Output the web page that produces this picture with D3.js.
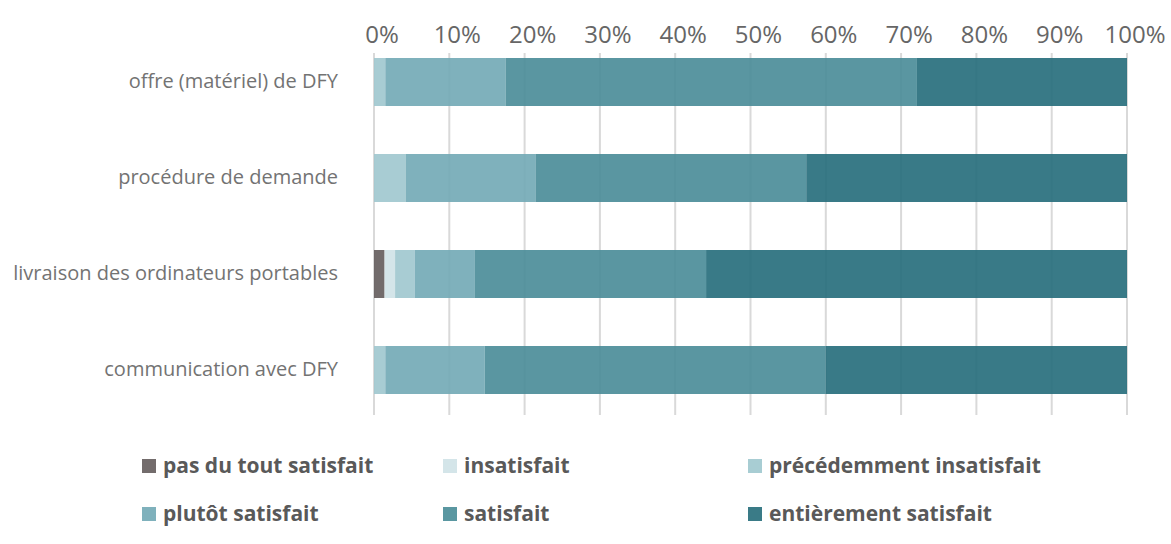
<!DOCTYPE html>
<html>
<head>
<meta charset="utf-8">
<script src="https://cdn.jsdelivr.net/npm/d3@7"></script>
<style>
  body { margin: 0; background: #fff; }
  text { font-family: "Open Sans", sans-serif; }
</style>
</head>
<body>
<div id="chart"></div>
<script>
// categories (top to bottom)
const categories = [
    "offre (matériel) de DFY",
    "procédure de demande",
    "livraison des ordinateurs portables",
    "communication avec DFY"
];

// answer levels, in stacking order
const levels = [
    "pas du tout satisfait",
    "insatisfait",
    "précédemment insatisfait",
    "plutôt satisfait",
    "satisfait",
    "entièrement satisfait"
];
const levelColors = ['#635b5b', '#cfe2e7', '#9ec7ce', '#71a8b5', '#488b97', '#246c7a'];
const legendColors = ['#736c6c', '#d4e5e9', '#a8cdd3', '#7fb1bc', '#5a97a1', '#3a7b87'];

// shares in % per level, one value per category
const pasDuTout    = [0,    0,    1.4,  0];
const insatisfait  = [0,    0,    1.4,  0];
const precedemment = [1.5,  4.2,  2.6,  1.5];
const plutot       = [16.0, 17.3, 8.0,  13.2];
const satisfait    = [54.6, 35.9, 30.7, 45.3];
const entierement  = [27.9, 42.6, 55.9, 40.0];

const tickValues = [0, 0.1, 0.2, 0.3, 0.4, 0.5, 0.6, 0.7, 0.8, 0.9, 1];

const series = [pasDuTout, insatisfait, precedemment, plutot, satisfait, entierement];

let W = 1171, H = 544;
let margin = {left: 374, right: 44};

let svg = d3.select("#chart").append("svg")
    .attr("width", W)
    .attr("height", H);

let x = d3.scaleLinear().domain([0, 1]).range([margin.left, W - margin.right]);
let y = d3.scaleBand().domain(categories)
    .range([34, 418])
    .paddingInner(0.5).paddingOuter(0.25);

// gridlines
svg.append("g").selectAll("line")
    .data(tickValues)
    .enter().append("line")
    .attr("x1", d => x(d)).attr("x2", d => x(d))
    .attr("y1", 53).attr("y2", 415)
    .attr("stroke", "#d9d9d9")
    .attr("stroke-width", 2);

// top axis labels
svg.append("g").selectAll("text")
    .data(tickValues)
    .enter().append("text")
    .attr("x", d => x(d) + 8)
    .attr("y", 43)
    .attr("text-anchor", "middle")
    .attr("fill", "#666")
    .style("font-size", "24px")
    .text(d => d3.format(".0%")(d));

// stacked data
let rows = categories.map((c, i) => {
    let row = {cat: c};
    levels.forEach((l, j) => row[l] = series[j][i] / 100);
    return row;
});
let stacked = d3.stack().keys(levels)(rows);

svg.append("g").selectAll("g")
    .data(stacked)
    .enter().append("g")
    .attr("fill", (d, i) => levelColors[i])
    .attr("fill-opacity", 0.9)
    .selectAll("rect")
    .data(d => d)
    .enter().append("rect")
    .attr("x", d => x(d[0]))
    .attr("width", d => x(d[1]) - x(d[0]))
    .attr("y", d => y(d.data.cat))
    .attr("height", y.bandwidth());

// category labels
svg.append("g").selectAll("text")
    .data(categories)
    .enter().append("text")
    .attr("x", 338)
    .attr("y", d => y(d) + y.bandwidth() / 2)
    .attr("dy", "0.3em")
    .attr("text-anchor", "end")
    .attr("fill", "#737373")
    .style("font-size", "20px")
    .text(d => d);

// legend
let legendPos = [[142, 466], [443, 466], [748, 466], [142, 514], [443, 514], [748, 514]];
let legend = svg.append("g").selectAll("g")
    .data(levels)
    .enter().append("g")
    .attr("transform", (d, i) => `translate(${legendPos[i][0]},${legendPos[i][1]})`);

legend.append("rect")
    .attr("x", 0).attr("y", -7)
    .attr("width", 14).attr("height", 14)
    .attr("fill", (d, i) => legendColors[i]);

legend.append("text")
    .attr("x", 21)
    .attr("dy", "0.35em")
    .attr("fill", "#595959")
    .style("font-size", "21px")
    .style("font-weight", "bold")
    .text(d => d);
</script>
</body>
</html>
